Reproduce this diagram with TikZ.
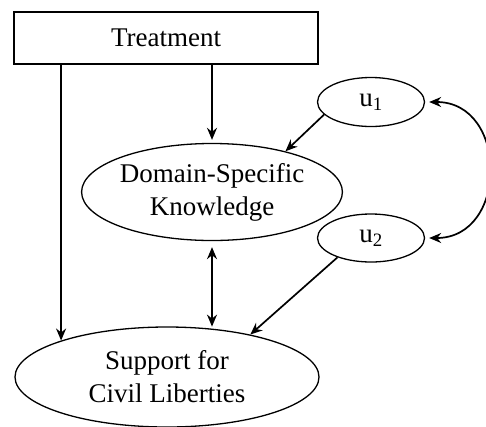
\documentclass[tikz,border=0pt]{standalone}
\usepackage{fontspec}
\setmainfont{Liberation Serif}
\usetikzlibrary{arrows.meta, shapes.geometric, positioning, calc}

\begin{document}
\begin{tikzpicture}[
  x=1pt, y=-1pt,
  every node/.style={font=\fontsize{27}{33}\selectfont},
  box/.style={rectangle, draw, line width=1.3pt, minimum width=304pt,
              minimum height=52pt},
  var/.style={ellipse, draw, line width=1.3pt, align=center, inner sep=0pt},
  arr/.style={-{Stealth[length=12pt, width=10pt]}, line width=1.7pt},
  both/.style={{Stealth[length=12pt, width=10pt]}-{Stealth[length=12pt, width=10pt]}},
]
\useasboundingbox (0,0) rectangle (486,426);
\node[box] (treat) at (166,38) {Treatment};
\node[var, minimum width=230pt, minimum height=97pt] (dsk) at (212,192)
  {Domain-Specific\\Knowledge};
\node[var, minimum width=107pt, minimum height=49pt] (u1) at (371,102)
  {u\textsubscript{1}};
\node[var, minimum width=107pt, minimum height=48pt] (u2) at (371,238)
  {u\textsubscript{2}};
\node[var, minimum width=304pt, minimum height=100pt] (scl) at (167,377)
  {Support for\\Civil Liberties};
\draw[arr] (treat.south -| scl.161) -- (scl.161);
\draw[arr] (treat.south -| dsk.north) -- ($(dsk.north)+(0,-3)$);
\draw[arr] (u1.195) -- (dsk.29);
\draw[arr, both] ($(dsk.south)+(0,6)$) -- ($(dsk.south |- scl.47)+(0,-2)$);
\draw[arr] (u2.210) -- (scl.27);
\draw[arr, both] ($(u1.east)+(4,0)$) to[out=0, in=0, looseness=1.5]
  ($(u2.east)+(4,0)$);
\end{tikzpicture}
\end{document}
